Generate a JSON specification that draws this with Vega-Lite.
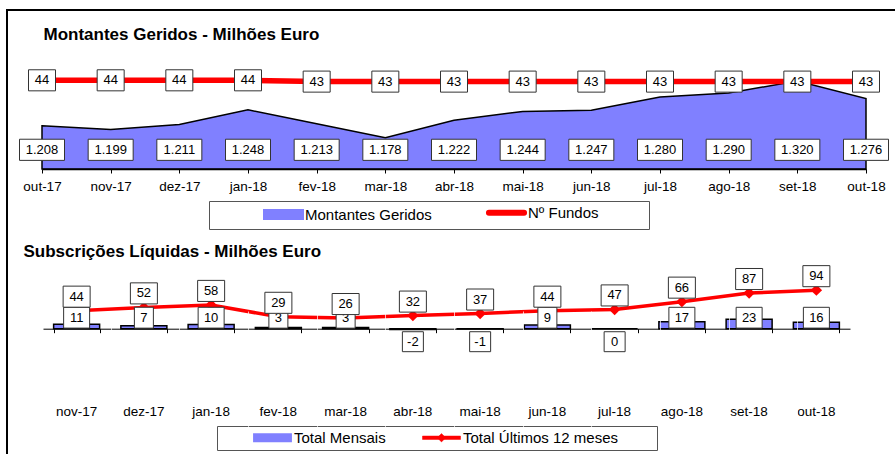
{
  "$schema": "https://vega.github.io/schema/vega-lite/v6.json",
  "width": 900,
  "height": 460,
  "padding": {"left": 7, "top": 10, "right": 0, "bottom": 0},
  "background": "white",
  "config": {
    "font": "Liberation Sans",
    "view": {"stroke": "black", "strokeWidth": 2, "fill": "white"},
    "locale": {"number": {"decimal": ",", "thousands": ".", "grouping": [3], "currency": ["", " €"], "minus": "-"}},
    "axis": {"labelColor": "black", "labelFont": "Liberation Sans", "labelFontSize": 13.5, "titleColor": "black", "titleFont": "Liberation Sans"},
    "legend": {"labelFont": "Liberation Sans", "labelFontSize": 15, "labelColor": "black"}
  },
  "datasets": {
    "top": [
      {"mes": "out-17", "montantes": 1208, "fundos": 44},
      {"mes": "nov-17", "montantes": 1199, "fundos": 44},
      {"mes": "dez-17", "montantes": 1211, "fundos": 44},
      {"mes": "jan-18", "montantes": 1248, "fundos": 44},
      {"mes": "fev-18", "montantes": 1213, "fundos": 43},
      {"mes": "mar-18", "montantes": 1178, "fundos": 43},
      {"mes": "abr-18", "montantes": 1222, "fundos": 43},
      {"mes": "mai-18", "montantes": 1244, "fundos": 43},
      {"mes": "jun-18", "montantes": 1247, "fundos": 43},
      {"mes": "jul-18", "montantes": 1280, "fundos": 43},
      {"mes": "ago-18", "montantes": 1290, "fundos": 43},
      {"mes": "set-18", "montantes": 1320, "fundos": 43},
      {"mes": "out-18", "montantes": 1276, "fundos": 43}
    ],
    "bottom": [
      {"mes": "nov-17", "mensais": 11, "ultimos": 44},
      {"mes": "dez-17", "mensais": 7, "ultimos": 52},
      {"mes": "jan-18", "mensais": 10, "ultimos": 58},
      {"mes": "fev-18", "mensais": 3, "ultimos": 29},
      {"mes": "mar-18", "mensais": 3, "ultimos": 26},
      {"mes": "abr-18", "mensais": -2, "ultimos": 32},
      {"mes": "mai-18", "mensais": -1, "ultimos": 37},
      {"mes": "jun-18", "mensais": 9, "ultimos": 44},
      {"mes": "jul-18", "mensais": 0, "ultimos": 47},
      {"mes": "ago-18", "mensais": 17, "ultimos": 66},
      {"mes": "set-18", "mensais": 23, "ultimos": 87},
      {"mes": "out-18", "mensais": 16, "ultimos": 94}
    ]
  },
  "resolve": {
    "scale": {"x": "independent", "y": "independent", "color": "independent"},
    "axis": {"x": "independent", "y": "independent"},
    "legend": {"color": "independent"}
  },
  "layer": [
    {
      "data": {"name": "top"},
      "resolve": {"scale": {"y": "independent"}, "axis": {"y": "independent"}},
      "layer": [
        {
          "layer": [
            {
              "mark": {"type": "area", "stroke": "black", "strokeWidth": 1.5, "opacity": 1},
              "encoding": {
                "x": {
                  "field": "mes", "type": "ordinal", "sort": null,
                  "scale": {"type": "point", "range": [35, 859], "padding": 0},
                  "axis": {
                    "orient": "bottom", "offset": -301, "labelAngle": 0, "labelPadding": 6,
                    "tickSize": 4, "tickColor": "black", "domainColor": "black", "domainWidth": 1.5,
                    "grid": true, "gridColor": "white", "gridOpacity": 0.7, "zindex": 1,
                    "title": "Montantes Geridos - Milhões Euro", "titleX": 36, "titleY": -130,
                    "titleAlign": "left", "titleBaseline": "alphabetic", "titleAngle": 0,
                    "titleFontSize": 17, "titleFontWeight": "bold"
                  }
                },
                "y": {"field": "montantes", "type": "quantitative", "scale": {"domain": [1100, 1400], "range": [159, 39], "zero": false, "nice": false}, "axis": null},
                "y2": {"datum": 1100},
                "color": {
                  "datum": "Montantes Geridos", "type": "nominal",
                  "scale": {"domain": ["Montantes Geridos", "Nº Fundos"], "range": ["#8080ff", "#ff0000"]},
                  "legend": {
                    "orient": "none", "legendX": 202, "legendY": 191, "direction": "horizontal", "title": null,
                    "fillColor": "white", "strokeColor": "#555555", "padding": 4,
                    "symbolSize": 1521, "symbolOffset": 63, "labelOffset": 14, "columnPadding": 4,
                    "symbolStrokeColor": "black", "symbolStrokeWidth": 2,
                    "labelFontSize": 15, "labelLimit": 300,
                    "encoding": {"symbols": {
                      "shape": {"value": {"expr": "datum.value == 'Nº Fundos' ? 'M-0.9,0L0.9,0M6.46,0' : 'M-1,-0.23L1,-0.23L1,0.23L-1,0.23Z'"}},
                      "fill": {"value": {"expr": "datum.value == 'Nº Fundos' ? 'transparent' : '#8080ff'"}},
                      "stroke": {"value": {"expr": "datum.value == 'Nº Fundos' ? '#ff0000' : '#000000'"}},
                      "strokeWidth": {"value": {"expr": "datum.value == 'Nº Fundos' ? 6 : 2"}},
                      "strokeCap": {"value": "round"},
                      "opacity": {"value": 1},
                      "strokeOpacity": {"value": 1},
                      "fillOpacity": {"value": 1}
                    }}
                  }
                }
              }
            },
            {
              "mark": {"type": "point", "shape": "M-1,-0.47L1,-0.47L1,0.47L-1,0.47Z", "size": 2025, "filled": true, "fill": "white", "stroke": "#333333", "strokeWidth": 1, "opacity": 1},
              "encoding": {
                "x": {"field": "mes", "type": "ordinal", "sort": null},
                "y": {"datum": 1148, "type": "quantitative"}
              }
            },
            {
              "mark": {"type": "text", "fontSize": 13, "fill": "black"},
              "encoding": {
                "x": {"field": "mes", "type": "ordinal", "sort": null},
                "y": {"datum": 1148, "type": "quantitative"},
                "text": {"field": "montantes", "type": "quantitative", "format": ",d"}
              }
            }
          ]
        },
        {
          "layer": [
            {
              "mark": {"type": "line", "strokeWidth": 5.5},
              "encoding": {
                "x": {"field": "mes", "type": "ordinal", "sort": null},
                "y": {"field": "fundos", "type": "quantitative", "scale": {"domain": [-24, 68], "range": [159, 39], "zero": false, "nice": false}, "axis": null},
                "color": {"datum": "Nº Fundos", "type": "nominal"}
              }
            },
            {
              "mark": {"type": "point", "shape": "M-1,-0.78L1,-0.78L1,0.78L-1,0.78Z", "size": 729, "filled": true, "fill": "white", "stroke": "#333333", "strokeWidth": 1, "opacity": 1},
              "encoding": {
                "x": {"field": "mes", "type": "ordinal", "sort": null},
                "y": {"field": "fundos", "type": "quantitative"}
              }
            },
            {
              "mark": {"type": "text", "fontSize": 13, "fill": "black"},
              "encoding": {
                "x": {"field": "mes", "type": "ordinal", "sort": null},
                "y": {"field": "fundos", "type": "quantitative"},
                "text": {"field": "fundos", "type": "quantitative"}
              }
            }
          ]
        }
      ]
    },
    {
      "data": {"name": "bottom"},
      "resolve": {"axis": {"x": "independent"}},
      "layer": [
        {
          "mark": {"type": "bar", "stroke": "black", "strokeWidth": 1.5, "opacity": 1},
          "encoding": {
            "x": {
              "field": "mes", "type": "ordinal", "sort": null,
              "scale": {"type": "band", "range": [36, 843], "paddingInner": 0.316, "paddingOuter": 0.158},
              "axis": {
                "orient": "bottom", "offset": -70, "domain": false, "ticks": false, "tickSize": 0,
                "labelPadding": 4, "labelAngle": 0, "grid": false,
                "title": "Subscrições Líquidas - Milhões Euro", "titleX": 16, "titleY": -144,
                "titleAlign": "left", "titleBaseline": "alphabetic", "titleAngle": 0,
                "titleFontSize": 17, "titleFontWeight": "bold"
              }
            },
            "y": {"field": "mensais", "type": "quantitative", "scale": {"domain": [-200, 200], "range": [400.7, 236.7], "nice": false}, "axis": null},
            "color": {
              "datum": "Total Mensais", "type": "nominal",
              "scale": {"domain": ["Total Mensais", "Total Últimos 12 meses"], "range": ["#8080ff", "#ff0000"]},
              "legend": {
                "orient": "none", "legendX": 210, "legendY": 416, "direction": "horizontal", "title": null,
                "fillColor": "white", "strokeColor": "#555555", "padding": 4,
                "symbolSize": 1444, "symbolOffset": 44, "labelOffset": 14, "columnPadding": 4,
                "symbolStrokeColor": "black", "symbolStrokeWidth": 2,
                "labelFontSize": 15, "labelLimit": 300,
                "encoding": {"symbols": {
                  "shape": {"value": {"expr": "datum.value == 'Total Mensais' ? 'M-0.97,-0.18L0.97,-0.18L0.97,0.18L-0.97,0.18Z' : 'M-1,-0.09L1,-0.09L1,0.09L-1,0.09Z M-0.22,0L0,-0.22L0.22,0L0,0.22Z M11.06,0'"}},
                  "fill": {"value": {"expr": "datum.value == 'Total Mensais' ? '#8080ff' : '#ff0000'"}},
                  "stroke": {"value": {"expr": "datum.value == 'Total Mensais' ? '#000000' : '#ff0000'"}},
                  "strokeWidth": {"value": {"expr": "datum.value == 'Total Mensais' ? 2 : 0.5"}},
                  "opacity": {"value": 1},
                  "strokeOpacity": {"value": 1},
                  "fillOpacity": {"value": 1}
                }}
              }
            }
          }
        },
        {
          "mark": {"type": "line", "strokeWidth": 3.5},
          "encoding": {
            "x": {
              "field": "mes", "type": "ordinal", "sort": null,
              "axis": {
                "orient": "bottom", "offset": -141.3, "labels": false, "domain": true, "domainColor": "black",
                "domainWidth": 1, "ticks": true, "tickBand": "extent", "tickSize": 4, "tickColor": "black",
                "title": null, "grid": false
              }
            },
            "y": {"field": "ultimos", "type": "quantitative"},
            "color": {"datum": "Total Últimos 12 meses", "type": "nominal"}
          }
        },
        {
          "mark": {"type": "point", "shape": "diamond", "size": 130, "filled": true, "fill": "#ff0000", "opacity": 1},
          "encoding": {
            "x": {"field": "mes", "type": "ordinal", "sort": null, "axis": null},
            "y": {"field": "ultimos", "type": "quantitative"}
          }
        },
        {
          "transform": [{"filter": "datum.mensais >= 10"}],
          "mark": {"type": "point", "shape": "M-1,-0.8L1,-0.8L1,0.8L-1,0.8Z", "size": 676, "filled": true, "fill": "white", "stroke": "#333333", "strokeWidth": 1, "opacity": 1, "yOffset": -11},
          "encoding": {
            "x": {"field": "mes", "type": "ordinal", "sort": null, "axis": null},
            "y": {"datum": 0, "type": "quantitative"}
          }
        },
        {
          "transform": [{"filter": "datum.mensais > 0 && datum.mensais < 10"}],
          "mark": {"type": "point", "shape": "M-1,-1.1L1,-1.1L1,1.1L-1,1.1Z", "size": 361, "filled": true, "fill": "white", "stroke": "#333333", "strokeWidth": 1, "opacity": 1, "yOffset": -11},
          "encoding": {
            "x": {"field": "mes", "type": "ordinal", "sort": null, "axis": null},
            "y": {"datum": 0, "type": "quantitative"}
          }
        },
        {
          "transform": [{"filter": "datum.mensais <= 0"}],
          "mark": {"type": "point", "shape": "M-1,-0.95L1,-0.95L1,0.95L-1,0.95Z", "size": 441, "filled": true, "fill": "white", "stroke": "#333333", "strokeWidth": 1, "opacity": 1, "yOffset": 13},
          "encoding": {
            "x": {"field": "mes", "type": "ordinal", "sort": null, "axis": null},
            "y": {"datum": 0, "type": "quantitative"}
          }
        },
        {
          "transform": [{"filter": "datum.mensais > 0"}],
          "mark": {"type": "text", "fontSize": 13, "fill": "black", "yOffset": -11},
          "encoding": {
            "x": {"field": "mes", "type": "ordinal", "sort": null, "axis": null},
            "y": {"datum": 0, "type": "quantitative"},
            "text": {"field": "mensais", "type": "quantitative"}
          }
        },
        {
          "transform": [{"filter": "datum.mensais <= 0"}],
          "mark": {"type": "text", "fontSize": 13, "fill": "black", "yOffset": 13},
          "encoding": {
            "x": {"field": "mes", "type": "ordinal", "sort": null, "axis": null},
            "y": {"datum": 0, "type": "quantitative"},
            "text": {"field": "mensais", "type": "quantitative"}
          }
        },
        {
          "mark": {"type": "point", "shape": "M-1,-0.78L1,-0.78L1,0.78L-1,0.78Z", "size": 729, "filled": true, "fill": "white", "stroke": "#333333", "strokeWidth": 1, "opacity": 1, "yOffset": -14},
          "encoding": {
            "x": {"field": "mes", "type": "ordinal", "sort": null, "axis": null},
            "y": {"field": "ultimos", "type": "quantitative"}
          }
        },
        {
          "mark": {"type": "text", "fontSize": 13, "fill": "black", "yOffset": -14},
          "encoding": {
            "x": {"field": "mes", "type": "ordinal", "sort": null, "axis": null},
            "y": {"field": "ultimos", "type": "quantitative"},
            "text": {"field": "ultimos", "type": "quantitative"}
          }
        }
      ]
    }
  ]
}
